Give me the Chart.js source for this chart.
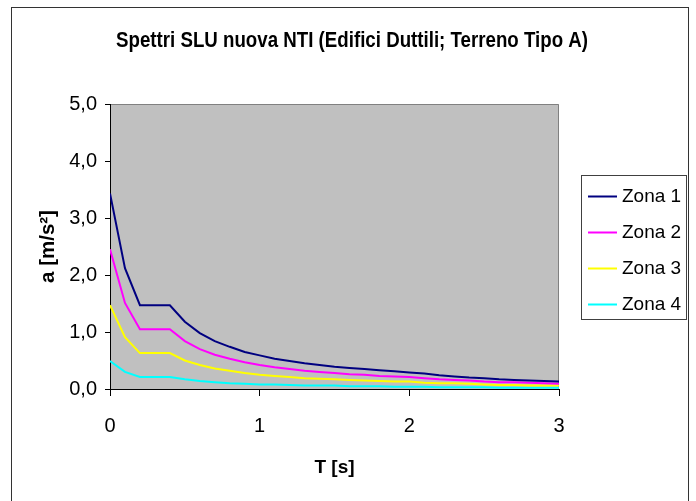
<!DOCTYPE html>
<html>
<head>
<meta charset="utf-8">
<script src="https://cdn.jsdelivr.net/npm/chart.js@4.4.1/dist/chart.umd.min.js"></script>
<style>
	body { margin: 0; background: #fff; }
	canvas { display: block; }
</style>
</head>
<body>
<canvas id="chart" width="696" height="501"></canvas>
<script>
// periodi T [s]
var periods = [0, 0.1, 0.2, 0.3, 0.4, 0.5, 0.6, 0.7, 0.8, 0.9, 1.0,
	1.1, 1.2, 1.3, 1.4, 1.5, 1.6, 1.7, 1.8, 1.9, 2.0,
	2.1, 2.2, 2.3, 2.4, 2.5, 2.6, 2.7, 2.8, 2.9, 3.0]

// accelerazioni a [m/s2]
var zona1 = [3.43, 2.12, 1.47, 1.47, 1.47, 1.18, 0.98, 0.84, 0.74, 0.65, 0.59,
	0.53, 0.49, 0.45, 0.42, 0.39, 0.37, 0.35, 0.33, 0.31, 0.29,
	0.27, 0.24, 0.22, 0.20, 0.19, 0.17, 0.16, 0.15, 0.14, 0.13]
var zona2 = [2.45, 1.51, 1.05, 1.05, 1.05, 0.84, 0.70, 0.60, 0.53, 0.47, 0.42,
	0.38, 0.35, 0.32, 0.30, 0.28, 0.26, 0.25, 0.23, 0.22, 0.21,
	0.19, 0.17, 0.16, 0.15, 0.13, 0.12, 0.12, 0.11, 0.10, 0.09]
var zona3 = [1.47, 0.91, 0.63, 0.63, 0.63, 0.50, 0.42, 0.36, 0.32, 0.28, 0.25,
	0.23, 0.21, 0.19, 0.18, 0.17, 0.16, 0.15, 0.14, 0.13, 0.13,
	0.11, 0.10, 0.10, 0.09, 0.08, 0.07, 0.07, 0.06, 0.06, 0.06]
var zona4 = [0.49, 0.30, 0.21, 0.21, 0.21, 0.17, 0.14, 0.12, 0.10, 0.09, 0.08,
	0.08, 0.07, 0.06, 0.06, 0.06, 0.05, 0.05, 0.05, 0.04, 0.04,
	0.04, 0.03, 0.03, 0.03, 0.03, 0.02, 0.02, 0.02, 0.02, 0.02]

var seriesNames = ['Zona 1', 'Zona 2', 'Zona 3', 'Zona 4']
var seriesColors = ['#000080', '#ff00ff', '#ffff00', '#00ffff']
var xTicks = [0, 1, 2, 3]
var yTicks = [0, 1, 2, 3, 4, 5]

var FONT = 'Liberation Sans, Arial, sans-serif'

function toPoints(values) {
	return periods.map(function (t, i) {
		return {x: t, y: values[i]};
	});
}

// sfondo grigio, bordi, titolo e legenda alla Excel
var excelLook = {
	id: 'excelLook',
	beforeDraw: function (chart) {
		var ctx = chart.ctx, a = chart.chartArea;
		ctx.save();
		ctx.fillStyle = '#fff';
		ctx.fillRect(0, 0, chart.width, chart.height);
		ctx.fillStyle = '#c0c0c0';
		ctx.fillRect(a.left, a.top, a.right - a.left, a.bottom - a.top);
		ctx.strokeStyle = '#808080';
		ctx.lineWidth = 1;
		ctx.beginPath();
		ctx.moveTo(a.left, a.top + 0.5);
		ctx.lineTo(a.right - 0.5, a.top + 0.5);
		ctx.lineTo(a.right - 0.5, a.bottom);
		ctx.stroke();
		ctx.restore();
	},
	afterDraw: function (chart) {
		var ctx = chart.ctx;
		ctx.save();
		// cornice esterna
		ctx.strokeStyle = '#333';
		ctx.lineWidth = 1;
		ctx.strokeRect(11.5, 7.5, 677, 520);
		// titolo (un po' stretto come in Excel)
		ctx.save();
		ctx.translate(352, 40.5);
		ctx.scale(0.85, 1);
		ctx.fillStyle = '#000';
		ctx.font = 'bold 22px ' + FONT;
		ctx.textAlign = 'center';
		ctx.textBaseline = 'middle';
		ctx.fillText('Spettri SLU nuova NTI (Edifici Duttili; Terreno Tipo A)', 0, 0);
		ctx.restore();
		// legenda
		ctx.fillStyle = '#fff';
		ctx.fillRect(581, 175, 105, 144);
		ctx.strokeStyle = '#404040';
		ctx.strokeRect(581.5, 175.5, 105, 144);
		ctx.font = '19px ' + FONT;
		ctx.textAlign = 'left';
		ctx.textBaseline = 'middle';
		chart.data.datasets.forEach(function (ds, i) {
			var y = 196 + i * 36;
			ctx.strokeStyle = ds.borderColor;
			ctx.lineWidth = 2;
			ctx.beginPath();
			ctx.moveTo(588, y + 0.5);
			ctx.lineTo(617, y + 0.5);
			ctx.stroke();
			ctx.fillStyle = '#000';
			ctx.fillText(ds.label, 622, y + 1);
		});
		ctx.restore();
	}
}

var datasets = [zona1, zona2, zona3, zona4].map(function (values, i) {
	return {
		label: seriesNames[i],
		data: toPoints(values),
		borderColor: seriesColors[i],
		backgroundColor: seriesColors[i],
		borderWidth: 2,
		pointRadius: 0,
		tension: 0,
		fill: false
	};
});

new Chart(document.getElementById('chart'), {
	type: 'line',
	data: {datasets: datasets},
	plugins: [excelLook],
	options: {
		responsive: false,
		animation: false,
		layout: {padding: {left: 0, top: 104, right: 137, bottom: 0}},
		plugins: {
			legend: {display: false},
			title: {display: false},
			tooltip: {enabled: false}
		},
		scales: {
			x: {
				type: 'linear',
				min: 0,
				max: 3,
				afterFit: function (scale) { scale.height = 112; },
				afterBuildTicks: function (scale) {
					scale.ticks = xTicks.map(function (v) { return {value: v}; });
				},
				ticks: {
					color: '#000',
					font: {family: FONT, size: 20},
					padding: 18,
					maxRotation: 0,
					callback: function (v) { return String(v); }
				},
				grid: {drawOnChartArea: false, drawTicks: true, tickLength: 7, tickColor: '#000'},
				border: {display: true, color: '#000', width: 1},
				title: {
					display: true,
					text: 'T [s]',
					color: '#000',
					font: {family: FONT, size: 19, weight: 'bold'},
					padding: {top: 0, bottom: 22}
				}
			},
			y: {
				type: 'linear',
				min: 0,
				max: 5,
				afterFit: function (scale) { scale.width = 110; },
				afterBuildTicks: function (scale) {
					scale.ticks = yTicks.map(function (v) { return {value: v}; });
				},
				ticks: {
					color: '#000',
					font: {family: FONT, size: 20},
					padding: 8,
					callback: function (v) { return v.toFixed(1).replace('.', ','); }
				},
				grid: {drawOnChartArea: false, drawTicks: true, tickLength: 5, tickColor: '#000'},
				border: {display: true, color: '#000', width: 1},
				title: {
					display: true,
					text: 'a [m/s²]',
					color: '#000',
					font: {family: FONT, size: 20.5, weight: 'bold'},
					padding: {top: 36, bottom: 0}
				}
			}
		}
	}
});
</script>
</body>
</html>
